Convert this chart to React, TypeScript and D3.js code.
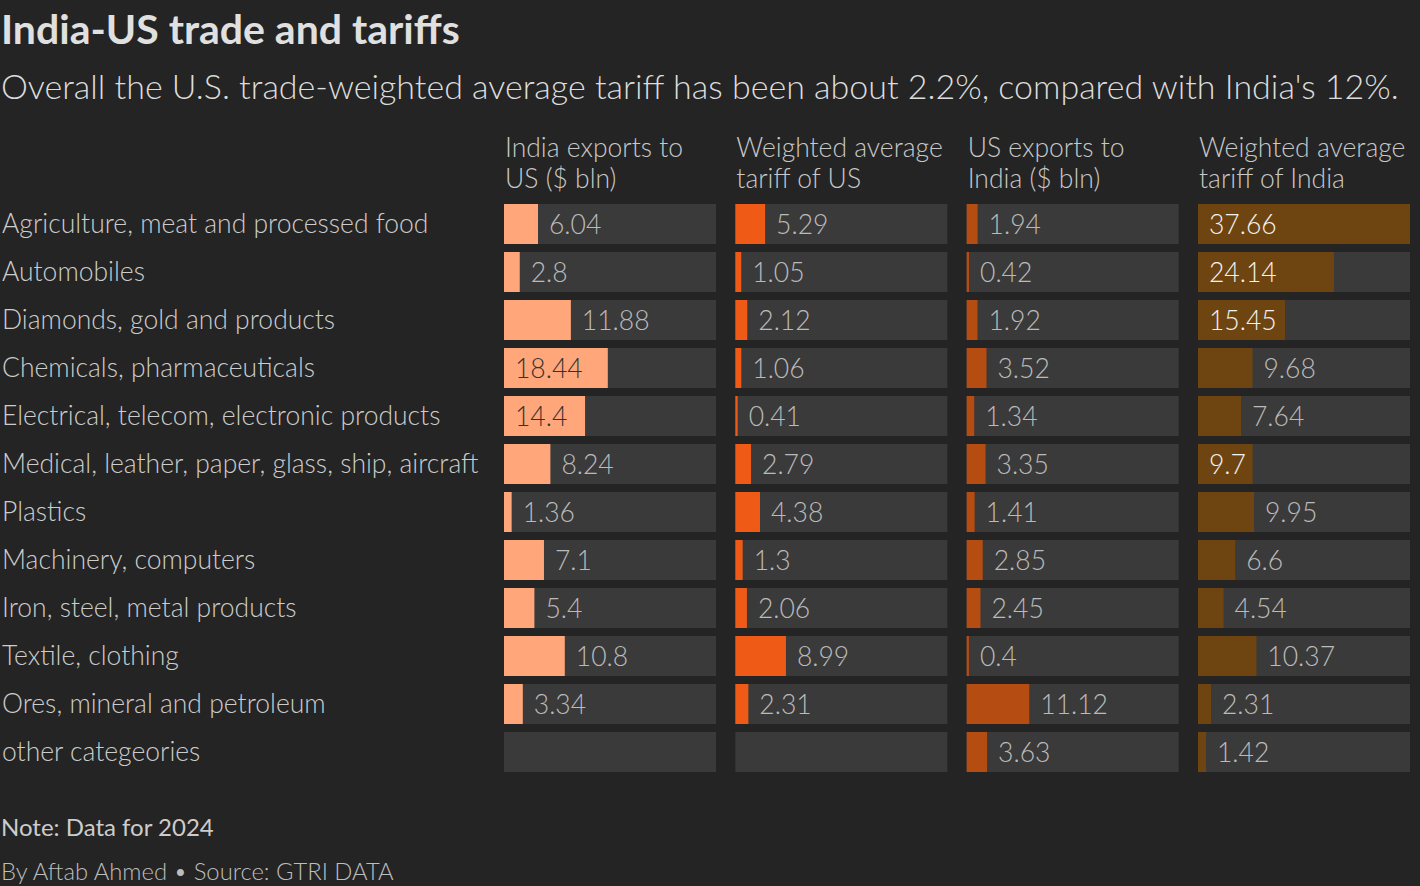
import * as React from 'react'
import * as d3 from 'd3'

const categories = [
    'Agriculture, meat and processed food',
    'Automobiles',
    'Diamonds, gold and products',
    'Chemicals, pharmaceuticals',
    'Electrical, telecom, electronic products',
    'Medical, leather, paper, glass, ship, aircraft',
    'Plastics',
    'Machinery, computers',
    'Iron, steel, metal products',
    'Textile, clothing',
    'Ores, mineral and petroleum',
    'other categeories',
]

const indiaExports = [6.04, 2.8, 11.88, 18.44, 14.4, 8.24, 1.36, 7.1, 5.4, 10.8, 3.34, null]
const usTariff = [5.29, 1.05, 2.12, 1.06, 0.41, 2.79, 4.38, 1.3, 2.06, 8.99, 2.31, null]
const usExports = [1.94, 0.42, 1.92, 3.52, 1.34, 3.35, 1.41, 2.85, 2.45, 0.4, 11.12, 3.63]
const indiaTariff = [37.66, 24.14, 15.45, 9.68, 7.64, 9.7, 9.95, 6.6, 4.54, 10.37, 2.31, 1.42]

const columnTitles = [
    ['India exports to', 'US ($ bln)'],
    ['Weighted average', 'tariff of US'],
    ['US exports to', 'India ($ bln)'],
    ['Weighted average', 'tariff of India'],
]

const series = [indiaExports, usTariff, usExports, indiaTariff]
const barColors = ['#ffa77a', '#ef5b17', '#b54c12', '#6e4510']
const insideColors = ['#333333', '#f2f2f2', '#f2f2f2', '#f2f2f2']

const W = 1420
const H = 886
const FONT = 'Lato, "Noto Sans", sans-serif'
const VALUE_SIZE = 26.5
const PAD = 11

let ctx: CanvasRenderingContext2D | null = null
function textWidth(t: string) {
    if (!ctx) ctx = document.createElement('canvas').getContext('2d')
    if (!ctx) return t.length * VALUE_SIZE * 0.5
    ctx.font = `300 ${VALUE_SIZE}px ${FONT}`
    return ctx.measureText(t).width
}

export default function App() {
    React.useEffect(() => {
        document.body.style.margin = '0'
        document.body.style.background = '#242424'
    }, [])

    const col = d3.scaleBand<number>()
        .domain(d3.range(series.length))
        .range([504, 1410])
        .paddingInner(0.0836)
    const row = d3.scaleBand<number>()
        .domain(d3.range(categories.length))
        .range([204, 772])
        .paddingInner(1 / 6)
    const allValues = series.flat().filter(v => v != null) as number[]
    const x = d3.scaleLinear()
        .domain([0, d3.max(allValues) as number])
        .range([0, col.bandwidth()])

    return <svg width={W} height={H} style={{ display: 'block', background: '#242424', fontFamily: FONT }}>
        <text x={1} y={44} fontSize={41} fontWeight={700} fill='#e0e0e0'>India-US trade and tariffs</text>
        <text x={1} y={99} fontSize={34} fontWeight={300} fill='#dcdcdc'>
            Overall the U.S. trade-weighted average tariff has been about 2.2%, compared with India's 12%.
        </text>

        {columnTitles.map((lines, i) => (
            <text key={i} x={(col(i) as number) + 1} fontSize={26.5} fontWeight={300} fill='#c8c8c8'>
                <tspan x={(col(i) as number) + 1} y={157}>{lines[0]}</tspan>
                <tspan x={(col(i) as number) + 1} y={188}>{lines[1]}</tspan>
            </text>
        ))}

        {categories.map((c, r) => (
            <text key={c} x={2} y={(row(r) as number) + row.bandwidth() / 2} dy='0.35em'
                fontSize={26.5} fontWeight={300} fill='#cccccc'>{c}</text>
        ))}

        {series.map((vals, i) => (
            <g key={i} transform={`translate(${col(i)},0)`}>
                {vals.map((v, r) => {
                    const y0 = row(r) as number
                    const bw = v == null ? 0 : x(v)
                    const label = v == null ? '' : String(v)
                    const inside = v != null && textWidth(label) + PAD * 1.5 <= bw
                    return <g key={r}>
                        <rect x={0} y={y0} width={col.bandwidth()} height={row.bandwidth()} fill='#3a3a3a' />
                        {v != null && <rect x={0} y={y0} width={bw} height={row.bandwidth()} fill={barColors[i]} />}
                        {v != null && <text x={inside ? PAD : bw + PAD} y={y0 + row.bandwidth() / 2} dy='0.36em'
                            fontSize={VALUE_SIZE} fontWeight={300}
                            fill={inside ? insideColors[i] : '#bababa'}>{label}</text>}
                    </g>
                })}
            </g>
        ))}

        <text x={1} y={836} fontSize={24} fontWeight={400} fill='#cccccc'>Note: Data for 2024</text>
        <text x={1} y={880} fontSize={23.8} fontWeight={300} fill='#bdbdbd'>By Aftab Ahmed • Source: GTRI DATA</text>
    </svg>
}
